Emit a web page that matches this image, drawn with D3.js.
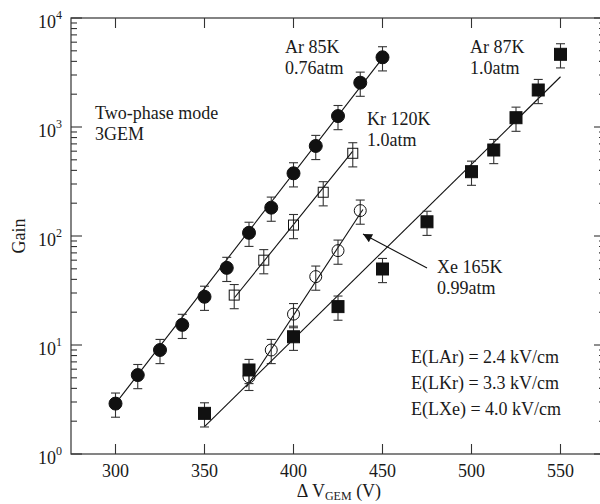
<!DOCTYPE html>
<html>
<head>
<meta charset="utf-8">
<script src="https://cdn.jsdelivr.net/npm/d3@7"></script>
<style>
    body { margin: 0; background: #fff; }
    svg text { font-family: "Liberation Serif", "Times New Roman", serif; fill: #1a1a1a; }
</style>
</head>
<body>
<div id="chart"></div>
<script>
// Gain vs GEM voltage
const voltAr85 = [300, 312.5, 325, 337.5, 350, 362.5, 375, 387.5, 400, 412.5, 425, 437.5, 450];
const gainAr85 = [2.9, 5.3, 9.0, 15.3, 27.7, 51, 107, 182, 376, 670, 1260, 2550, 4360];

const voltKr120 = [366.7, 383.3, 400, 416.7, 433.3];
const gainKr120 = [28.7, 60, 126, 252, 574];

const voltXe165 = [375, 387.5, 400, 412.5, 425, 437.5];
const gainXe165 = [5.1, 9.0, 19.2, 42.4, 73.4, 171];

const voltAr87 = [350, 375, 400, 425, 450, 475, 500, 512.5, 525, 537.5, 550];
const gainAr87 = [2.36, 5.9, 11.9, 22.5, 49.8, 135, 389, 615, 1217, 2185, 4645];

// exponential fit lines, end points [V, gain]
const fitAr85 = [[300, 2.9], [451, 4500]];
const fitKr120 = [[366.7, 27], [433.3, 600]];
const fitXe165 = [[373.5, 4.1], [439, 175]];
const fitAr87 = [[350, 1.78], [550, 2890]];

// relative error on every point
const relError = 0.25;

const xTicks = [300, 350, 400, 450, 500, 550];
const yDecades = [0, 1, 2, 3, 4];

class GainChart {
    constructor(selector) {
        this.selector = selector;
        this.width = 600;
        this.height = 504;
        this.plot = { left: 71, right: 605, top: 18, bottom: 454 };
        this.series = [
            { volt: voltAr85, gain: gainAr85, fit: fitAr85, marker: 'circle', filled: true },
            { volt: voltKr120, gain: gainKr120, fit: fitKr120, marker: 'square', filled: false },
            { volt: voltXe165, gain: gainXe165, fit: fitXe165, marker: 'circle', filled: false },
            { volt: voltAr87, gain: gainAr87, fit: fitAr87, marker: 'square', filled: true }
        ];
        this.initVis();
    }

    initVis() {
        let vis = this;
        const p = vis.plot;

        vis.svg = d3.select(vis.selector).append('svg')
            .attr('width', vis.width)
            .attr('height', vis.height);

        vis.x = d3.scaleLinear().domain([275, 575]).range([p.left, p.right]);
        vis.y = d3.scaleLog().domain([1, 1e4]).range([p.bottom, p.top]);

        // Frame
        vis.svg.append('rect')
            .attr('x', p.left).attr('y', p.top)
            .attr('width', p.right - p.left).attr('height', p.bottom - p.top)
            .attr('fill', 'none').attr('stroke', '#333').attr('stroke-width', 1.2);

        // Inward ticks on all four sides
        const minor = [];
        yDecades.slice(0, -1).forEach(e => {
            for (let m = 2; m <= 9; m++) minor.push(m * Math.pow(10, e));
        });
        const majorY = yDecades.map(e => Math.pow(10, e));

        const tickLine = (g, x1, y1, x2, y2) => g.append('line')
            .attr('x1', x1).attr('y1', y1).attr('x2', x2).attr('y2', y2)
            .attr('stroke', '#333').attr('stroke-width', 1.1);

        const ticks = vis.svg.append('g');
        xTicks.forEach(v => {
            tickLine(ticks, vis.x(v), p.bottom, vis.x(v), p.bottom - 10);
            tickLine(ticks, vis.x(v), p.top, vis.x(v), p.top + 10);
        });
        majorY.forEach(v => {
            tickLine(ticks, p.left, vis.y(v), p.left + 11, vis.y(v));
            tickLine(ticks, p.right, vis.y(v), p.right - 11, vis.y(v));
        });
        minor.forEach(v => {
            tickLine(ticks, p.left, vis.y(v), p.left + 6, vis.y(v));
            tickLine(ticks, p.right, vis.y(v), p.right - 6, vis.y(v));
        });

        // Tick labels
        vis.svg.selectAll('.x-label')
            .data(xTicks)
            .join('text')
            .attr('class', 'x-label')
            .attr('x', d => vis.x(d))
            .attr('y', p.bottom + 23)
            .attr('text-anchor', 'middle')
            .style('font-size', '18px')
            .text(d => d);

        const yLabels = vis.svg.selectAll('.y-label')
            .data(yDecades)
            .join('text')
            .attr('class', 'y-label')
            .attr('x', 62)
            .attr('y', d => vis.y(Math.pow(10, d)) + 10)
            .attr('text-anchor', 'end')
            .style('font-size', '18px');
        yLabels.append('tspan').text('10');
        yLabels.append('tspan')
            .attr('dy', -9)
            .style('font-size', '12px')
            .text(d => d);

        // Axis titles
        vis.svg.append('text')
            .attr('transform', `translate(25, ${(p.top + p.bottom) / 2}) rotate(-90)`)
            .attr('text-anchor', 'middle')
            .style('font-size', '18px')
            .text('Gain');

        const xTitle = vis.svg.append('text')
            .attr('x', 339)
            .attr('y', 497)
            .attr('text-anchor', 'middle')
            .style('font-size', '18px');
        xTitle.append('tspan').text('\u0394 V');
        xTitle.append('tspan').attr('dy', 3).style('font-size', '12px').text('GEM');
        xTitle.append('tspan').attr('dy', -3).text(' (V)');

        vis.drawSeries();
        vis.drawNotes();
    }

    drawSeries() {
        let vis = this;
        const line = d3.line().x(d => vis.x(d[0])).y(d => vis.y(d[1]));

        vis.series.forEach(s => {
            const pts = s.volt.map((v, i) => ({ v: v, g: s.gain[i] }));
            const g = vis.svg.append('g');

            // fit line
            g.append('path')
                .attr('d', line(s.fit))
                .attr('fill', 'none')
                .attr('stroke', '#111')
                .attr('stroke-width', 1.1);

            // error bars
            const eb = g.selectAll('.err').data(pts).join('g').attr('class', 'err')
                .attr('stroke', '#333').attr('stroke-width', 1.1);
            eb.append('line')
                .attr('x1', d => vis.x(d.v)).attr('x2', d => vis.x(d.v))
                .attr('y1', d => vis.y(d.g * (1 + relError)))
                .attr('y2', d => vis.y(d.g * (1 - relError)));
            [1 + relError, 1 - relError].forEach(f => {
                eb.append('line')
                    .attr('x1', d => vis.x(d.v) - 4.5).attr('x2', d => vis.x(d.v) + 4.5)
                    .attr('y1', d => vis.y(d.g * f)).attr('y2', d => vis.y(d.g * f));
            });

            // markers
            const fill = s.filled ? '#111' : 'none';
            if (s.marker === 'circle') {
                g.selectAll('.mk').data(pts).join('circle').attr('class', 'mk')
                    .attr('cx', d => vis.x(d.v))
                    .attr('cy', d => vis.y(d.g))
                    .attr('r', s.filled ? 6.5 : 6)
                    .attr('fill', fill)
                    .attr('stroke', '#111')
                    .attr('stroke-width', 1);
            } else {
                const side = s.filled ? 12 : 10;
                g.selectAll('.mk').data(pts).join('rect').attr('class', 'mk')
                    .attr('x', d => vis.x(d.v) - side / 2)
                    .attr('y', d => vis.y(d.g) - side / 2)
                    .attr('width', side).attr('height', side)
                    .attr('fill', fill)
                    .attr('stroke', '#111')
                    .attr('stroke-width', 1);
            }
        });
    }

    drawNotes() {
        let vis = this;
        const notes = [
            { x: 95, y: 119, lines: ['Two-phase mode', '3GEM'] },
            { x: 285, y: 53, lines: ['Ar 85K', '0.76atm'] },
            { x: 367, y: 125, lines: ['Kr 120K', '1.0atm'] },
            { x: 470, y: 53, lines: ['Ar 87K', '1.0atm'] },
            { x: 437, y: 273, lines: ['Xe 165K', '0.99atm'] },
            { x: 411, y: 363, lines: ['E(LAr) = 2.4 kV/cm', 'E(LKr) = 3.3 kV/cm', 'E(LXe) = 4.0 kV/cm'], step: 26 }
        ];
        notes.forEach(n => {
            const t = vis.svg.append('text')
                .attr('x', n.x).attr('y', n.y)
                .style('font-size', '18px');
            n.lines.forEach((l, i) => {
                t.append('tspan')
                    .attr('x', n.x)
                    .attr('dy', i === 0 ? 0 : (n.step || 21))
                    .text(l);
            });
        });

        // arrow pointing at the Xe data
        vis.svg.append('defs').append('marker')
            .attr('id', 'head')
            .attr('viewBox', '0 0 10 10')
            .attr('refX', 10).attr('refY', 5)
            .attr('markerWidth', 12).attr('markerHeight', 9)
            .attr('markerUnits', 'userSpaceOnUse')
            .attr('orient', 'auto')
            .append('path')
            .attr('d', 'M0,0 L10,5 L0,10 Z')
            .attr('fill', '#111');

        vis.svg.append('line')
            .attr('x1', 427).attr('y1', 268)
            .attr('x2', 363).attr('y2', 234)
            .attr('stroke', '#111')
            .attr('stroke-width', 1.1)
            .attr('marker-end', 'url(#head)');
    }
}

document.addEventListener('DOMContentLoaded', () => {
    new GainChart('#chart');
});
</script>
</body>
</html>
